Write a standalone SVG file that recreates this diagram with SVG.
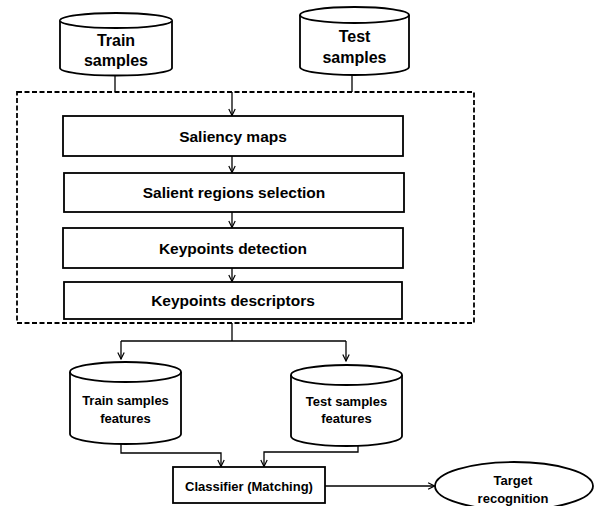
<svg xmlns="http://www.w3.org/2000/svg" width="604" height="506" viewBox="0 0 604 506">
<style>
  .shape { fill: #ffffff; stroke: #000000; stroke-width: 1.8; }
  .conn { fill: none; stroke: #000000; stroke-width: 1.3; }
  .dash { fill: none; stroke: #000000; stroke-width: 1.8; stroke-dasharray: 5 2.5; }
  text { font-family: "Liberation Sans", Arial, sans-serif; font-weight: bold; fill: #000000; text-anchor: middle; }
  .big { font-size: 16px; }
  .mid { font-size: 15.5px; }
  .small { font-size: 13px; }
</style>
<defs>
  <marker id="arr" viewBox="0 0 10 10" refX="9" refY="5" markerWidth="8" markerHeight="8" markerUnits="userSpaceOnUse" orient="auto">
    <path d="M1,1 L9,5 L1,9" fill="none" stroke="#000" stroke-width="1.5"/>
  </marker>
</defs>
<rect width="604" height="506" fill="#ffffff"/>

<g id="connectors">
  <path class="conn" d="M115,75 V92"/>
  <path class="conn" d="M352,75 V92"/>
  <path class="conn" d="M232,92 V115.5" marker-end="url(#arr)"/>
  <path class="conn" d="M232,156 V172.5" marker-end="url(#arr)"/>
  <path class="conn" d="M232,212 V227.5" marker-end="url(#arr)"/>
  <path class="conn" d="M232,268 V281.5" marker-end="url(#arr)"/>
  <path class="conn" d="M232,323 V341"/>
  <path class="conn" d="M121,341 H346"/>
  <path class="conn" d="M121,341 V359" marker-end="url(#arr)"/>
  <path class="conn" d="M346,341 V361" marker-end="url(#arr)"/>
  <path class="conn" d="M121,444 V453 H221 V466.5" marker-end="url(#arr)"/>
  <path class="conn" d="M358,446 V452 H264 V466.5" marker-end="url(#arr)"/>
  <path class="conn" d="M325,486 H434.5" marker-end="url(#arr)"/>
</g>

<g id="processing-block">
  <rect class="dash" x="17" y="92" width="457" height="231"/>
</g>

<g id="train-samples">
  <path class="shape" d="M60,20.5 A56,7.5 0 0 1 172,20.5 V68 A56,7.5 0 0 1 60,68 Z"/>
  <path class="shape" d="M60,20.5 A56,7.5 0 0 0 172,20.5"/>
  <text class="big" x="116" y="46">Train</text>
  <text class="big" x="116" y="66">samples</text>
</g>

<g id="test-samples">
  <path class="shape" d="M300,15 A54.5,8 0 0 1 409,15 V67 A54.5,8 0 0 1 300,67 Z"/>
  <path class="shape" d="M300,15 A54.5,8 0 0 0 409,15"/>
  <text class="big" x="354.5" y="42">Test</text>
  <text class="big" x="354.5" y="63">samples</text>
</g>

<g id="saliency-maps">
  <rect class="shape" x="63" y="116" width="340" height="40"/>
  <text class="mid" x="233" y="141.5">Saliency maps</text>
</g>

<g id="salient-regions">
  <rect class="shape" x="64" y="173" width="340" height="39"/>
  <text class="mid" x="234" y="198">Salient regions selection</text>
</g>

<g id="keypoints-detection">
  <rect class="shape" x="63" y="228" width="340" height="40"/>
  <text class="mid" x="233" y="253.5">Keypoints detection</text>
</g>

<g id="keypoints-descriptors">
  <rect class="shape" x="64" y="282" width="338" height="37"/>
  <text class="mid" x="233" y="306">Keypoints descriptors</text>
</g>

<g id="train-features">
  <path class="shape" d="M70,372 A55.5,10 0 0 1 181,372 V434 A55.5,10 0 0 1 70,434 Z"/>
  <path class="shape" d="M70,372 A55.5,10 0 0 0 181,372"/>
  <text class="small" x="125.5" y="405">Train samples</text>
  <text class="small" x="125.5" y="423">features</text>
</g>

<g id="test-features">
  <path class="shape" d="M291,375 A55.5,10 0 0 1 402,375 V436 A55.5,10 0 0 1 291,436 Z"/>
  <path class="shape" d="M291,375 A55.5,10 0 0 0 402,375"/>
  <text class="small" x="346.5" y="406">Test samples</text>
  <text class="small" x="346.5" y="423">features</text>
</g>

<g id="classifier">
  <rect class="shape" x="173" y="467" width="152" height="36"/>
  <text class="small" x="249" y="491">Classifier (Matching)</text>
</g>

<g id="target-recognition">
  <ellipse class="shape" cx="514" cy="486" rx="79" ry="24"/>
  <text class="small" x="513" y="485">Target</text>
  <text class="small" x="513" y="503">recognition</text>
</g>
</svg>
